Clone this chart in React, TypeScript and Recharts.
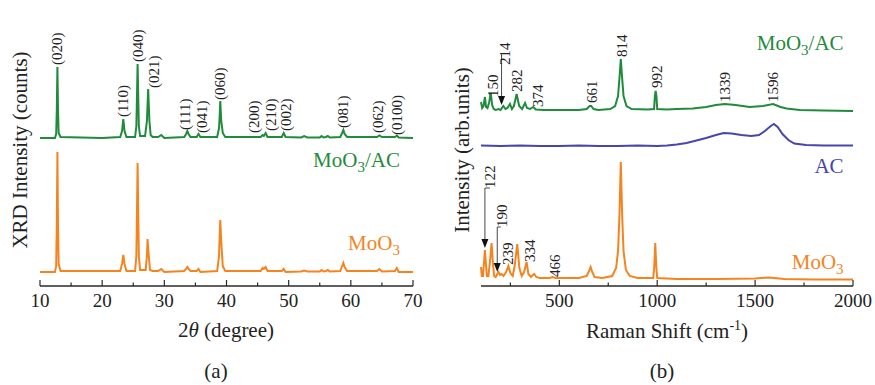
import React from "react";
import { LineChart, Line, XAxis, YAxis, ReferenceDot, ReferenceLine } from "recharts";

const FONT = "'Liberation Serif', 'Times New Roman', serif";
const GREEN = "#1f8b3b";
const ORANGE = "#f5841f";
const BLUE = "#4646ad";
const AXIS = "#2a2a2a";
const INK = "#222";

// ---- (a) XRD, 2θ in degrees ----
const xrdTicks = [10, 15, 20, 25, 30, 35, 40, 45, 50, 55, 60, 65, 70];

const xrdMoO3AC: [number, number][] = [
  [10, 148], [12.4, 148], [12.6, 152], [12.7, 175], [12.8, 219], [12.9, 175], [13.0, 153], [13.3, 149],
  [20, 148], [22.9, 149], [23.2, 155], [23.4, 167], [23.6, 155], [23.9, 149],
  [25.3, 149], [25.5, 160], [25.6, 190], [25.7, 222], [25.8, 190], [25.9, 160], [26.1, 150],
  [26.9, 150], [27.2, 165], [27.4, 197], [27.6, 165], [27.8, 151], [28.1, 149],
  [29.0, 149], [29.5, 151], [30.0, 148], [33.2, 149], [33.5, 152], [33.7, 155], [33.9, 152], [34.2, 149],
  [35.2, 149], [35.5, 152], [35.8, 149], [38.5, 149], [38.8, 158], [38.9, 170], [39.0, 185], [39.15, 165],
  [39.4, 153], [39.8, 149], [45.5, 149], [45.8, 151], [46.0, 150], [46.3, 153], [46.6, 149],
  [48.9, 149], [49.2, 153], [49.5, 149], [52.0, 148.5], [52.5, 150], [53.0, 148.5],
  [55.0, 148.5], [55.3, 150], [55.6, 148.5], [56.0, 149], [56.3, 150], [56.6, 148.5],
  [58.3, 149], [58.6, 153], [58.8, 156], [59.0, 152], [59.4, 149],
  [64.2, 149], [64.6, 150.5], [65.0, 149], [67.1, 149], [67.4, 150.5], [67.7, 148.5], [70, 148],
];

const xrdMoO3: [number, number][] = [
  [10, 14], [12.4, 14], [12.6, 20], [12.7, 60], [12.8, 134], [12.9, 60], [13.0, 22], [13.3, 15],
  [22.9, 15], [23.2, 22], [23.4, 31], [23.6, 22], [23.9, 15],
  [25.3, 15], [25.5, 30], [25.6, 75], [25.7, 123], [25.8, 75], [25.9, 30], [26.1, 16],
  [27.0, 16], [27.2, 30], [27.3, 47], [27.5, 30], [27.7, 16], [28.1, 15],
  [29.0, 15], [29.5, 17], [30.0, 14], [33.2, 15], [33.5, 17], [33.7, 19], [33.9, 17], [34.2, 15],
  [35.2, 15], [35.5, 17], [35.8, 14], [38.5, 15], [38.8, 30], [38.9, 50], [39.0, 66], [39.15, 45],
  [39.4, 20], [39.8, 15], [45.5, 15], [45.8, 18], [46.0, 17], [46.3, 19], [46.6, 15],
  [48.9, 15], [49.2, 17], [49.5, 14], [52.0, 14.5], [52.5, 15.5], [53.0, 14.5],
  [55.0, 14.5], [55.3, 16], [55.6, 14.5], [56.0, 15], [56.3, 16], [56.6, 14.5],
  [58.3, 15], [58.6, 20], [58.8, 23], [59.0, 19], [59.4, 15],
  [64.2, 15], [64.6, 17], [65.0, 14.5], [67.1, 15], [67.4, 18], [67.7, 14], [70, 14],
];

// hkl labels: [2θ, bottom of text, text]
const xrdLabels: [number, number, string][] = [
  [12.8, 221, "(020)"], [23.3, 169, "(110)"], [25.8, 224, "(040)"], [28.3, 198, "(021)"],
  [33.3, 156, "(111)"], [36.1, 153, "(041)"], [38.9, 186, "(060)"], [44.4, 153, "(200)"],
  [47.1, 155, "(210)"], [49.5, 155, "(002)"], [58.7, 158, "(081)"], [64.4, 153, "(062)"],
  [67.4, 151, "(0100)"],
];

// ---- (b) Raman, cm-1 ----
const ramanTicks = [250, 500, 750, 1000, 1250, 1500, 1750, 2000];

const ramanMoO3AC: [number, number][] = [
  [100, 184], [106, 178], [113, 180], [120, 189], [126, 179], [133, 178], [141, 183], [150, 193],
  [157, 181], [165, 177], [175, 176], [190, 177], [200, 176], [214, 180], [225, 177], [235, 178],
  [248, 182], [258, 177], [268, 180], [282, 192], [295, 180], [310, 177], [325, 183], [335, 178],
  [350, 177], [367, 179], [380, 176.5], [420, 176], [500, 176], [600, 176], [640, 177], [655, 180],
  [663, 180], [675, 177], [700, 176], [760, 177], [785, 180], [800, 190], [808, 210], [814, 227],
  [820, 210], [828, 190], [843, 180], [870, 177], [950, 176.5], [984, 177], [988, 190], [992, 195],
  [996, 190], [1000, 177], [1050, 176.5], [1100, 177], [1182, 177.5], [1250, 179], [1300, 181],
  [1345, 182], [1400, 181], [1472, 179], [1540, 180], [1592, 182], [1630, 179], [1661, 177.5],
  [1728, 176], [1850, 175.5], [2000, 175],
];

const ramanAC: [number, number][] = [
  [100, 140.5], [200, 140], [300, 140.5], [400, 140], [500, 140], [600, 140.5], [700, 140],
  [800, 140], [900, 140.5], [1000, 140], [1050, 140.5], [1100, 141.5], [1150, 143], [1200, 145.5],
  [1250, 148], [1300, 151], [1340, 153], [1380, 152.5], [1430, 151], [1480, 150], [1520, 151],
  [1550, 155], [1580, 160], [1596, 162], [1615, 159], [1640, 152], [1670, 146], [1700, 142.5],
  [1760, 141], [1850, 140.5], [2000, 140.5],
];

const ramanMoO3: [number, number][] = [
  [100, 19], [104, 10], [110, 10], [116, 25], [120, 36], [124, 25], [130, 10], [138, 10], [146, 25],
  [154, 43], [160, 25], [167, 10], [175, 9], [183, 12], [190, 14], [197, 11], [205, 12], [215, 10],
  [228, 14], [240, 20], [250, 13], [262, 10], [272, 20], [285, 42], [296, 18], [308, 10], [320, 14],
  [333, 24], [342, 12], [355, 9], [365, 11], [372, 12], [382, 9], [400, 8], [450, 8], [466, 9],
  [480, 8], [600, 8], [640, 10], [652, 15], [660, 19], [668, 14], [680, 9], [720, 8], [770, 10],
  [790, 18], [800, 35], [807, 70], [814, 124], [821, 70], [828, 35], [840, 16], [860, 10], [900, 8],
  [980, 8], [985, 20], [990, 43], [995, 20], [1000, 8], [1100, 7], [1300, 7], [1500, 7.5],
  [1570, 8.5], [1650, 7], [1800, 6.5], [2000, 6.5],
];

// peak numbers: [shift, bottom of text, text]
const ramanLabels: [number, number, string][] = [
  [163, 189, "150"], [222, 221, "214"], [285, 194, "282"], [392, 179, "374"], [665, 183, "661"],
  [820, 229, "814"], [1001, 198, "992"], [1348, 184, "1339"], [1591, 184, "1596"],
  [148, 98, "122"], [205, 59, "190"], [239, 21, "239"], [350, 24, "334"], [478, 9, "466"],
];

// leader arrows: [line x, top, tip, text x]
const ramanArrows: [number, number, number, number][] = [
  [205, 231, 181, 205],
  [120, 98, 38, 146],
  [183, 59, 14, 201],
];

const toPts = (arr: [number, number][]) => arr.map(([x, y]) => ({ x, y }));

const makeTick = (every: number) => (props: any) => {
  const { x, y, payload } = props;
  const major = payload.value % every === 0;
  return (
    <g>
      <line x1={x} x2={x} y1={y} y2={y - (major ? 6 : 3.5)} stroke={AXIS} strokeWidth={1.2} />
      {major && (
        <text x={x} y={y + 21} textAnchor="middle" fontSize={19} fontFamily={FONT} fill={INK}>
          {payload.value}
        </text>
      )}
    </g>
  );
};

const rotLabel = (text: string) => (p: any) => (
  <text
    x={p.cx}
    y={p.cy}
    transform={`rotate(-90 ${p.cx} ${p.cy})`}
    dominantBaseline="central"
    fontSize={15}
    fontFamily={FONT}
    fill={INK}
  >
    {text}
  </text>
);

const seriesLabel = (name: "MoO3/AC" | "MoO3" | "AC", color: string) => (p: any) => (
  <text x={p.cx} y={p.cy} textAnchor="end" fontSize={21} fontFamily={FONT} fill={color}>
    {name === "AC" ? (
      "AC"
    ) : (
      <>
        MoO<tspan dy={5} fontSize={15}>3</tspan>
        {name === "MoO3/AC" ? <tspan dy={-5}>/AC</tspan> : null}
      </>
    )}
  </text>
);

const arrowHead = (p: any) => (
  <path d={`M${p.cx - 3.5},${p.cy - 9} L${p.cx + 3.5},${p.cy - 9} L${p.cx},${p.cy} Z`} fill="#111" />
);

function Frame({ domain, ticks, every }: { domain: [number, number]; ticks: number[]; every: number }) {
  return null;
}

export default function App() {
  const axisLine = { stroke: AXIS, strokeWidth: 1.3 };
  return (
    <div style={{ position: "absolute", left: 0, top: 0, width: 875, height: 385, background: "#fff" }}>
      <div style={{ position: "absolute", left: 0, top: 0 }}>
        <LineChart width={440} height={385} margin={{ top: 13, right: 27, bottom: 69, left: 40 }}>
          <XAxis type="number" dataKey="x" domain={[10, 70]} ticks={xrdTicks} interval={0} height={30}
            axisLine={axisLine} tickLine={false} tickSize={0} tickMargin={0} tick={makeTick(10)} />
          <XAxis xAxisId="top" orientation="top" type="number" dataKey="x" domain={[10, 70]} height={0}
            axisLine={axisLine} tick={false} tickLine={false} />
          <YAxis type="number" domain={[0, 273]} width={0} axisLine={axisLine} tick={false} tickLine={false} />
          <YAxis yAxisId="right" orientation="right" type="number" domain={[0, 273]} width={0}
            axisLine={axisLine} tick={false} tickLine={false} />
          <Line data={toPts(xrdMoO3AC)} dataKey="y" type="linear" stroke={GREEN} strokeWidth={2}
            dot={false} activeDot={false} isAnimationActive={false} />
          <Line data={toPts(xrdMoO3)} dataKey="y" type="linear" stroke={ORANGE} strokeWidth={2}
            dot={false} activeDot={false} isAnimationActive={false} />
          {xrdLabels.map(([x, y, t]) => (
            <ReferenceDot key={t} x={x} y={y} r={1} shape={rotLabel(t)} />
          ))}
          <ReferenceDot x={67.9} y={119} r={1} shape={seriesLabel("MoO3/AC", GREEN)} />
          <ReferenceDot x={67.9} y={36} r={1} shape={seriesLabel("MoO3", ORANGE)} />
        </LineChart>
      </div>
      <div style={{ position: "absolute", left: 440, top: 0 }}>
        <LineChart width={435} height={385} margin={{ top: 13, right: 22, bottom: 69, left: 41 }}>
          <XAxis type="number" dataKey="x" domain={[100, 2000]} ticks={ramanTicks} interval={0} height={30}
            axisLine={axisLine} tickLine={false} tickSize={0} tickMargin={0} tick={makeTick(500)} />
          <XAxis xAxisId="top" orientation="top" type="number" dataKey="x" domain={[100, 2000]} height={0}
            axisLine={axisLine} tick={false} tickLine={false} />
          <YAxis type="number" domain={[0, 273]} width={0} axisLine={axisLine} tick={false} tickLine={false} />
          <YAxis yAxisId="right" orientation="right" type="number" domain={[0, 273]} width={0}
            axisLine={axisLine} tick={false} tickLine={false} />
          <Line data={toPts(ramanMoO3AC)} dataKey="y" type="linear" stroke={GREEN} strokeWidth={2}
            dot={false} activeDot={false} isAnimationActive={false} />
          <Line data={toPts(ramanAC)} dataKey="y" type="linear" stroke={BLUE} strokeWidth={2}
            dot={false} activeDot={false} isAnimationActive={false} />
          <Line data={toPts(ramanMoO3)} dataKey="y" type="linear" stroke={ORANGE} strokeWidth={2}
            dot={false} activeDot={false} isAnimationActive={false} />
          {ramanLabels.map(([x, y, t]) => (
            <ReferenceDot key={t} x={x} y={y} r={1} shape={rotLabel(t)} />
          ))}
          {ramanArrows.map(([lx, top, tip, tx], i) => (
            <ReferenceLine key={"v" + i} segment={[{ x: lx, y: top }, { x: lx, y: tip + 4 }]}
              stroke="#333" strokeWidth={0.9} />
          ))}
          {ramanArrows.map(([lx, top, tip, tx], i) => (
            <ReferenceLine key={"h" + i} segment={[{ x: lx, y: top }, { x: tx, y: top }]}
              stroke="#333" strokeWidth={0.9} />
          ))}
          {ramanArrows.map(([lx, top, tip], i) => (
            <ReferenceDot key={"a" + i} x={lx} y={tip} r={1} shape={arrowHead} />
          ))}
          <ReferenceDot x={1952} y={236} r={1} shape={seriesLabel("MoO3/AC", GREEN)} />
          <ReferenceDot x={1952} y={113} r={1} shape={seriesLabel("AC", BLUE)} />
          <ReferenceDot x={1952} y={17} r={1} shape={seriesLabel("MoO3", ORANGE)} />
        </LineChart>
      </div>
      <svg width={875} height={385} style={{ position: "absolute", left: 0, top: 0, pointerEvents: "none" }}
        fontFamily={FONT} fill={INK}>
        <text x={20} y={150} transform="rotate(-90 20 150)" textAnchor="middle" dominantBaseline="central" fontSize={21}>
          XRD Intensity (counts)
        </text>
        <text x={226} y={337} textAnchor="middle" fontSize={21}>
          2<tspan fontStyle="italic">θ</tspan> (degree)
        </text>
        <text x={216} y={378} textAnchor="middle" fontSize={21}>(a)</text>
        <text x={462} y={150} transform="rotate(-90 462 150)" textAnchor="middle" dominantBaseline="central" fontSize={21}>
          Intensity (arb.units)
        </text>
        <text x={667} y={338} textAnchor="middle" fontSize={21}>
          Raman Shift (cm<tspan dy={-8} fontSize={14}>-1</tspan><tspan dy={8}>)</tspan>
        </text>
        <text x={662} y={378} textAnchor="middle" fontSize={21}>(b)</text>
      </svg>
    </div>
  );
}
